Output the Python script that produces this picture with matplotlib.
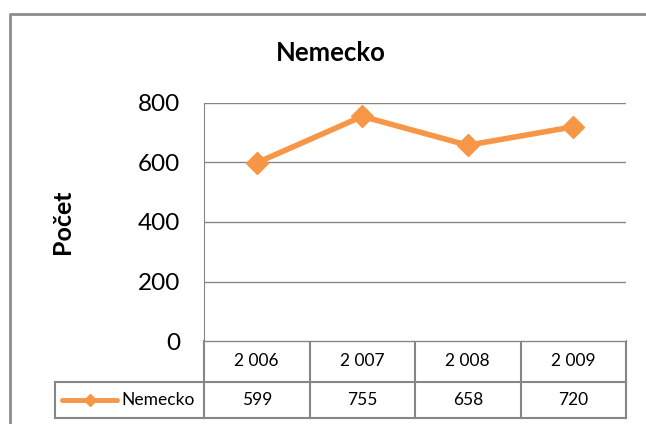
import matplotlib.pyplot as plt
import numpy as np

plt.rcParams['font.family'] = ['Lato', 'DejaVu Sans']

# data
years = ['2 006', '2 007', '2 008', '2 009']
nemecko = [599, 755, 658, 720]
series_name = 'Nemecko'
yticks = [0, 200, 400, 600, 800]

orange = '#F79646'
grid_col = '#868686'

W, H = 646, 424
fig = plt.figure(figsize=(W / 100, H / 100), dpi=100)

# overlay in pixel coordinates for frame and data table
bg = fig.add_axes([0, 0, 1, 1])
bg.set_xlim(0, W)
bg.set_ylim(H, 0)
bg.axis('off')

# outer chart frame (runs off the right and bottom edge)
bg.plot([10, 10, W + 5], [H + 5, 14, 14], color='#8c8c8c', lw=2, solid_capstyle='butt')

# plot area
px0, px1 = 204, 626
py0, py1 = 103, 341
ax = fig.add_axes([px0 / W, 1 - py1 / H, (px1 - px0) / W, (py1 - py0) / H])
x = np.arange(len(years))
ax.plot(x, nemecko, color=orange, lw=4, marker='D', markersize=11,
        markeredgecolor=orange, zorder=3)
ax.set_xlim(-0.5, len(years) - 0.5)
ax.set_ylim(0, 800)
ax.set_yticks(yticks)
ax.yaxis.grid(True, color=grid_col, lw=1)
ax.set_xticks([])
ax.tick_params(axis='y', length=0, labelsize=17.5, pad=17)
for s in ['top', 'right', 'bottom']:
    ax.spines[s].set_visible(False)
ax.spines['left'].set_color(grid_col)

# title and axis name
bg.text(331, 53, 'Nemecko', ha='center', va='center', fontsize=18.5, fontweight='bold')
bg.text(63, 222, 'Počet', ha='center', va='center', rotation=90,
        fontsize=18, fontweight='bold')

# data table below the plot
row1 = (py1, 382)
row2 = (382, 418)
leg_x = 55
col_w = (px1 - px0) / len(years)
tc = grid_col
bg.plot([px0, px1], [row1[0], row1[0]], color=tc, lw=1)
bg.plot([leg_x, px1], [row2[0], row2[0]], color=tc, lw=1.5)
bg.plot([leg_x, px1], [row2[1], row2[1]], color=tc, lw=1.5)
bg.plot([leg_x, leg_x], [row2[0], row2[1]], color=tc, lw=1.5)
bg.plot([px1, px1], [row1[0], row2[1]], color=tc, lw=1.5)
for i in range(len(years)):
    cx = px0 + i * col_w
    bg.plot([cx, cx], [row1[0], row2[1]], color=tc, lw=1.5)
    mid = cx + col_w / 2
    bg.text(mid, sum(row1) / 2, years[i], ha='center', va='center', fontsize=12.5)
    bg.text(mid, sum(row2) / 2, str(nemecko[i]), ha='center', va='center', fontsize=12.5)

# legend key inside the first table cell
ky = sum(row2) / 2
bg.plot([62, 117], [ky, ky], color=orange, lw=3.5, solid_capstyle='round')
bg.plot([89.5], [ky], marker='D', color=orange, markersize=6)
bg.text(121, ky, series_name, ha='left', va='center', fontsize=12.5)

fig.savefig('out.png', dpi=100)
